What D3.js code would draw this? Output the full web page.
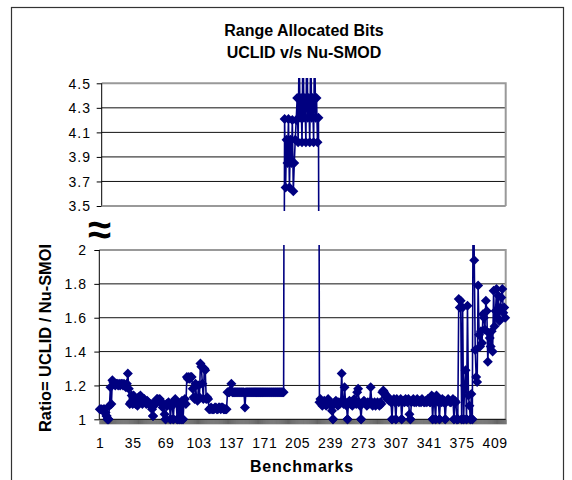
<!DOCTYPE html>
<html><head><meta charset="utf-8">
<script src="https://cdn.jsdelivr.net/npm/d3@7"></script>
<style>html,body{margin:0;padding:0;background:#fff}svg{display:block}</style>
</head><body><svg id="c" width="572" height="480"></svg>
<script>
const titleLines = ["Range Allocated Bits", "UCLID v/s Nu-SMOD"];
const xTitle = "Benchmarks";
const yTitle = "Ratio= UCLID / Nu-SMOD";
const xTickLabels = [1, 35, 69, 103, 137, 171, 205, 239, 273, 307, 341, 375, 409];
const upperTicks = [3.5, 3.7, 3.9, 4.1, 4.3, 4.5];
const lowerTicks = [1, 1.2, 1.4, 1.6, 1.8, 2];
// ratio values for benchmarks 1..420
const ratios = [
1.06,1.06,1.06,1.05,1.06,1.06,1.04,1.02,1.0,1.0,
1.08,1.19,1.09,1.23,1.22,1.21,1.2,1.21,1.21,1.2,
1.21,1.2,1.21,1.21,1.2,1.21,1.2,1.19,1.21,1.27,
1.18,1.09,1.1,1.14,1.09,1.14,1.1,1.09,1.12,1.08,
1.13,1.11,1.14,1.13,1.09,1.11,1.12,1.1,1.09,1.11,
1.1,1.09,1.08,1.09,1.06,1.02,1.08,1.09,1.11,1.12,
1.12,1.11,1.12,1.1,1.09,1.07,1.09,1.03,1.0,1.09,
1.08,1.1,1.09,1.0,1.09,1.08,1.0,1.11,1.12,1.1,
1.0,1.09,1.0,1.08,1.0,1.11,1.0,1.1,1.12,1.09,
1.25,1.24,1.25,1.24,1.25,1.25,1.18,1.13,1.12,1.21,
1.12,1.11,1.2,1.13,1.33,1.31,1.21,1.12,1.3,1.29,
1.12,1.13,1.12,1.06,1.06,1.07,1.06,1.06,1.06,1.07,
1.07,1.06,1.06,1.07,1.07,1.06,1.07,1.07,1.06,1.06,
1.06,1.06,1.16,1.16,1.16,1.17,1.21,1.16,1.16,1.16,
1.16,1.16,1.16,1.16,1.16,1.16,1.16,1.16,1.16,1.16,
1.07,1.16,1.16,1.16,1.16,1.16,1.16,1.16,1.16,1.16,
1.16,1.16,1.16,1.16,1.16,1.16,1.16,1.16,1.16,1.16,
1.16,1.16,1.16,1.16,1.16,1.16,1.16,1.16,1.16,1.16,
1.16,1.16,1.16,1.16,1.16,1.16,1.16,1.16,1.16,1.16,
1.16,4.21,3.65,4.04,3.85,4.21,3.65,4.04,3.85,4.2,
3.62,3.85,4.04,4.2,4.38,4.02,4.8,4.22,4.38,4.02,
4.9,4.22,4.38,4.02,5.0,4.22,4.38,4.02,4.8,4.22,
4.38,4.02,4.9,4.22,4.38,4.02,4.22,1.1,1.12,1.09,
1.08,1.1,1.11,1.09,1.08,1.1,1.12,1.09,1.1,1.08,
1.05,1.0,1.09,1.1,1.11,1.1,1.08,1.1,1.09,1.1,
1.27,1.1,1.09,1.19,1.1,1.08,1.0,1.1,1.11,1.09,
1.1,1.08,1.1,1.12,1.1,1.09,1.16,1.18,1.1,1.08,
1.0,1.09,1.1,1.11,1.1,1.09,1.08,1.1,1.09,1.1,
1.19,1.1,1.08,1.09,1.1,1.08,1.09,1.1,1.09,1.08,
1.1,1.09,1.16,1.17,1.16,1.15,1.13,1.12,1.13,1.11,
1.12,1.1,1.0,1.11,1.12,1.1,1.0,1.12,1.11,1.1,
1.11,1.12,1.0,1.1,1.11,1.1,1.12,1.11,1.1,1.12,
1.03,1.0,1.1,1.11,1.12,1.1,1.11,1.1,1.12,1.11,
1.1,1.11,1.1,1.12,1.11,1.1,1.1,1.11,1.1,1.12,
1.11,1.1,1.1,1.14,1.0,1.13,1.1,1.0,1.14,1.11,
1.1,1.0,1.11,1.1,1.12,1.1,1.11,1.0,1.1,1.11,
1.12,1.11,1.1,1.1,1.11,1.12,1.0,1.11,1.1,1.0,
1.0,1.71,1.66,1.7,1.0,1.66,1.0,1.2,1.29,1.0,
1.67,1.14,1.08,1.0,1.15,1.0,2.6,1.94,1.41,1.25,
1.22,1.79,1.5,1.43,1.52,1.45,1.62,1.6,1.53,1.7,
1.64,1.34,1.51,1.48,1.43,1.52,1.4,1.76,1.55,1.64,
1.77,1.6,1.73,1.58,1.66,1.72,1.77,1.63,1.66,1.6
];
const categories = ratios.map((v, k) => k + 1);
const data = categories.map((c, k) => ({c, v: ratios[k]}));

const svg = d3.select("#c");
const FONT = "Arial, 'Liberation Sans', sans-serif";
const NAVY = "#000080";
const R = 5;
const diamond = `M0,${-R}L${R},0L0,${R}L${-R},0Z`;

// outer frame
svg.append("rect").attr("x", 11.5).attr("y", 7.5).attr("width", 552).attr("height", 480)
  .attr("fill", "none").attr("stroke", "#333").attr("stroke-width", 1.2);

// title
svg.append("g").selectAll("text").data(titleLines).join("text")
  .attr("x", 304).attr("y", (d, k) => 36 + k * 22)
  .attr("text-anchor", "middle").attr("font-family", FONT).attr("font-weight", "bold")
  .attr("font-size", 16).attr("fill", "#000").text(d => d);

const x = d3.scaleLinear().domain([0.5, categories.length + 0.5]).range([99.3, 505.7]);
const yUp = d3.scaleLinear().domain([3.5, 4.5]).range([206, 83.3]);
const yLo = d3.scaleLinear().domain([1, 2]).range([419.3, 250]);

const defs = svg.append("defs");
defs.append("clipPath").attr("id", "clipUp").append("rect").attr("x", 90).attr("y", 78).attr("width", 430).attr("height", 133);
defs.append("clipPath").attr("id", "clipLo").append("rect").attr("x", 90).attr("y", 245).attr("width", 430).attr("height", 190);
defs.append("clipPath").attr("id", "clipYT").append("rect").attr("x", 0).attr("y", 245).attr("width", 90).attr("height", 235);

function panel(y, ticks, leftX, clipId, labelRight) {
  const g = svg.append("g");
  const lo = ticks[0], hi = ticks[ticks.length - 1];
  g.selectAll("line.grid").data(ticks.slice(1, -1)).join("line")
    .attr("x1", leftX).attr("x2", x.range()[1]).attr("y1", d => y(d)).attr("y2", d => y(d))
    .attr("stroke", "#111").attr("stroke-width", 1);
  g.append("path").attr("d", `M${leftX},${y(hi)}H${x.range()[1]}V${y(lo)}`)
    .attr("fill", "none").attr("stroke", "#999").attr("stroke-width", 2);
  const ax = d3.axisLeft(y).tickValues(ticks).tickSize(5).tickFormat(d3.format(""));
  const ag = g.append("g").attr("transform", `translate(${leftX},0)`).call(ax);
  ag.select(".domain").attr("stroke", "#000").attr("d", `M0,${y(hi)}V${y(lo)}`);
  ag.selectAll(".tick line").attr("stroke", "#000");
  ag.selectAll(".tick text").attr("x", labelRight - leftX).attr("font-family", FONT)
    .attr("font-size", 14).attr("letter-spacing", 1).attr("fill", "#000").attr("dy", "0.35em");
  const dg = svg.append("g").attr("clip-path", `url(#${clipId})`);
  dg.append("path").datum(data)
    .attr("d", d3.line().x(d => x(d.c)).y(d => y(d.v)))
    .attr("fill", "none").attr("stroke", NAVY).attr("stroke-width", 1.6);
  dg.selectAll("path.m").data(data.filter(d => d.v >= lo - 0.05 && d.v <= hi + 0.05)).join("path")
    .attr("class", "m").attr("d", diamond)
    .attr("transform", d => `translate(${x(d.c)},${y(d.v)})`)
    .attr("fill", NAVY);
  return g;
}

const up = panel(yUp, upperTicks, 101.7, "clipUp", 91);
up.append("line").attr("x1", 101.7).attr("x2", x.range()[1]).attr("y1", yUp(3.5)).attr("y2", yUp(3.5))
  .attr("stroke", "#999").attr("stroke-width", 2);
panel(yLo, lowerTicks, 99.3, "clipLo", 87);

// x axis of lower panel: category tick marks between categories
const bounds = d3.range(categories.length + 1).map(k => k + 0.5);
const xAxisG = svg.append("g").attr("transform", `translate(0,${yLo(1)})`)
  .call(d3.axisBottom(x).tickValues(bounds).tickSize(5).tickFormat(""));
xAxisG.select(".domain").attr("stroke", "#000").attr("d", `M${x.range()[0]},0H${x.range()[1]}`);
xAxisG.selectAll(".tick line").attr("stroke", "#000").attr("stroke-width", 0.6);
svg.append("g").attr("clip-path", "url(#clipLo)").selectAll("path")
  .data(data.filter(d => d.v <= 1.02)).join("path")
  .attr("d", diamond)
  .attr("transform", d => `translate(${x(d.c)},${yLo(d.v)})`).attr("fill", NAVY);

const labG = svg.append("g").attr("transform", `translate(0,${yLo(1)})`)
  .call(d3.axisBottom(x).tickValues(xTickLabels).tickSize(0).tickPadding(0).tickFormat(d3.format("")));
labG.select(".domain").remove();
labG.selectAll(".tick text").attr("y", 29).attr("dy", 0).attr("font-family", FONT)
  .attr("font-size", 14).attr("letter-spacing", 0.6).attr("fill", "#000");

svg.append("text").attr("x", 302).attr("y", 472).attr("text-anchor", "middle")
  .attr("font-family", FONT).attr("font-weight", "bold").attr("font-size", 16)
  .attr("letter-spacing", 0.8).attr("fill", "#000").text(xTitle);
svg.append("g").attr("clip-path", "url(#clipYT)").append("text")
  .attr("transform", "translate(51,432) rotate(-90)")
  .attr("font-family", FONT).attr("font-weight", "bold").attr("font-size", 16.4)
  .attr("fill", "#000").text(yTitle);

svg.append("text").attr("x", 99.5).attr("y", 244).attr("text-anchor", "middle")
  .attr("font-family", FONT).attr("font-weight", "bold").attr("font-size", 42)
  .attr("fill", "#000").text("≈");
</script></body></html>
